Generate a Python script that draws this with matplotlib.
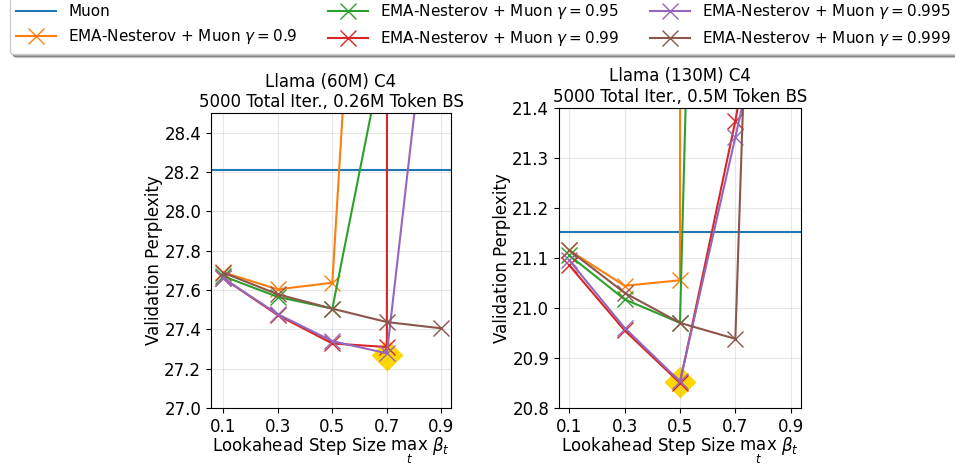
import numpy as np
import matplotlib
matplotlib.use("Agg")
import matplotlib.pyplot as plt

# lookahead step sizes
x_steps = [0.1, 0.3, 0.5, 0.7, 0.9]
gammas = ["0.9", "0.95", "0.99", "0.995", "0.999"]
colors = ["tab:orange", "tab:green", "tab:red", "tab:purple", "tab:brown"]

# Llama 60M
muon_60m = 28.21
ema_60m = [
    [27.69, 27.603, 27.637, 32.2],           # 0.9
    [27.67, 27.565, 27.505, 28.9],           # 0.95
    [27.66, 27.472, 27.328, 27.31, 500.0],   # 0.99
    [27.66, 27.477, 27.34, 27.278, 29.7],    # 0.995
    [27.688, 27.578, 27.505, 27.437, 27.405],  # 0.999
]
best_60m = (0.7, 27.27)

# Llama 130M
muon_130m = 21.152
ema_130m = [
    [21.115, 21.044, 21.055, 200.0],          # 0.9
    [21.105, 21.017, 20.97, 25.2],            # 0.95
    [21.085, 20.955, 20.85, 21.373, 22.0],    # 0.99
    [21.095, 20.96, 20.853, 21.341, 21.83],   # 0.995
    [21.115, 21.03, 20.97, 20.938, 24.3],     # 0.999
]
best_130m = (0.5, 20.852)

fig = plt.figure(figsize=(9.55, 4.65), dpi=100)
ax1 = fig.add_axes([0.2209, 0.1226, 0.2513, 0.6344])
ax2 = fig.add_axes([0.5853, 0.1226, 0.2534, 0.6462])

def draw(ax, muon, ema, best, title, ylim, yticks, xlim):
    ax.axhline(muon, color="tab:blue", lw=1.5, label="Muon")
    for vals, g, c in zip(ema, gammas, colors):
        ax.plot(x_steps[:len(vals)], vals, color=c, marker="x", ms=11, mew=1.0, lw=1.5,
                label=r"EMA-Nesterov + Muon $\gamma = %s$" % g)
    ax.plot([best[0]], [best[1]], marker="D", ms=15.5, color="gold", zorder=1.5, ls="none")
    ax.set_xlim(*xlim)
    ax.set_ylim(*ylim)
    ax.set_yticks(yticks)
    ax.set_xticks(x_steps)
    ax.tick_params(labelsize=12)
    ax.grid(True, alpha=0.3)
    ax.set_title(title, fontsize=12, pad=4)
    ax.set_xlabel(r"Lookahead Step Size $\max_t\ \beta_t$", fontsize=12, labelpad=0)
    ax.set_ylabel("Validation Perplexity", fontsize=12, labelpad=1)

draw(ax1, muon_60m, ema_60m, best_60m, "Llama (60M) C4\n5000 Total Iter., 0.26M Token BS",
     (27.0, 28.5), np.arange(27.0, 28.41, 0.2), (0.055, 0.935))
draw(ax2, muon_130m, ema_130m, best_130m, "Llama (130M) C4\n5000 Total Iter., 0.5M Token BS",
     (20.8, 21.4), np.arange(20.8, 21.41, 0.1), (0.063, 0.937))
ax1.yaxis.set_major_formatter(matplotlib.ticker.FormatStrFormatter("%.1f"))
ax2.yaxis.set_major_formatter(matplotlib.ticker.FormatStrFormatter("%.1f"))

h, l = ax1.get_legend_handles_labels()
fig.legend(h, l, loc="lower center", bbox_to_anchor=(0.5065, 0.867), ncol=3,
           fontsize=11, shadow=True, fancybox=True, columnspacing=2.0, handlelength=2.6)

fig.savefig("out.png", dpi=100)
